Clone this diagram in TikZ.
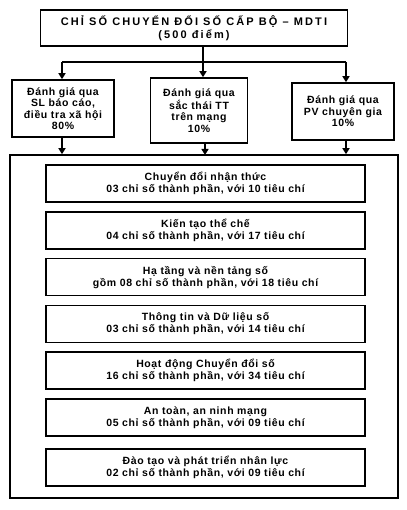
\documentclass[tikz,border=0pt]{standalone}
\usepackage{fontspec}
\setmainfont[LetterSpace=6]{Liberation Sans}
\newfontfamily\titlefont[LetterSpace=19]{Liberation Sans}
\usetikzlibrary{arrows.meta}
\begin{document}
\begin{tikzpicture}[x=1pt,y=-1pt,
  box/.style={draw,line width=1.6pt,align=center,inner sep=2pt,font=\fontsize{10.5}{11.5}\selectfont\bfseries},
  item/.style={box,minimum width=319pt,minimum height=37pt,font=\fontsize{10.5}{12}\selectfont\bfseries},
  arr/.style={line width=1.4pt,-{Triangle[width=7pt,length=6pt]}},
  ln/.style={line width=1.4pt}]
\useasboundingbox (0,0) rectangle (406,510);
\node[box,minimum width=307pt,minimum height=36pt,font=\titlefont\fontsize{11}{12.5}\selectfont\bfseries] (title) at (194,28) {CHỈ SỐ CHUYỂN ĐỔI SỐ CẤP BỘ – MDTI\\(500 điểm)};
\node[box,minimum width=102pt,minimum height=57pt] (b1) at (63,108.5) {Đánh giá qua\\SL báo cáo,\\điều tra xã hội\\80\%};
\node[box,minimum width=97pt,minimum height=65pt] (b2) at (199,110.5) {Đánh giá qua\\sắc thái TT\\trên mạng\\10\%};
\node[box,minimum width=102pt,minimum height=57pt] (b3) at (343,111.5) {Đánh giá qua\\PV chuyên gia\\10\%};
\node[draw,line width=1.6pt,minimum width=388pt,minimum height=343pt] (cont) at (204,326.5) {};
\node[item] (i1) at (205.5,183.5) {Chuyển đổi nhận thức\\03 chỉ số thành phần, với 10 tiêu chí};
\node[item] (i2) at (205.5,230.3) {Kiến tạo thể chế\\04 chỉ số thành phần, với 17 tiêu chí};
\node[item] (i3) at (205.5,277.1) {Hạ tầng và nền tảng số\\gồm 08 chỉ số thành phần, với 18 tiêu chí};
\node[item] (i4) at (205.5,323.9) {Thông tin và Dữ liệu số\\03 chỉ số thành phần, với 14 tiêu chí};
\node[item] (i5) at (205.5,370.7) {Hoạt động Chuyển đổi số\\16 chỉ số thành phần, với 34 tiêu chí};
\node[item] (i6) at (205.5,417.5) {An toàn, an ninh mạng\\05 chỉ số thành phần, với 09 tiêu chí};
\node[item] (i7) at (205.5,467.3) {Đào tạo và phát triển nhân lực\\02 chỉ số thành phần, với 09 tiêu chí};
\coordinate (j1) at (62,62);
\coordinate (j2) at (203,62);
\coordinate (j3) at (346,62);
\draw[ln] (title.south -| j2) -- (j2);
\draw[ln] (j1) -- (j3);
\draw[arr] (j1) -- (j1 |- b1.north);
\draw[arr] (j2) -- (j2 |- b2.north);
\draw[arr] (j3) -- (j3 |- b3.north);
\draw[arr] (b1.south -| j1) -- (j1 |- cont.north);
\draw[arr] (b2.south -| 205,0) -- (205,155);
\draw[arr] (b3.south -| j3) -- (j3 |- cont.north);
\end{tikzpicture}
\end{document}
